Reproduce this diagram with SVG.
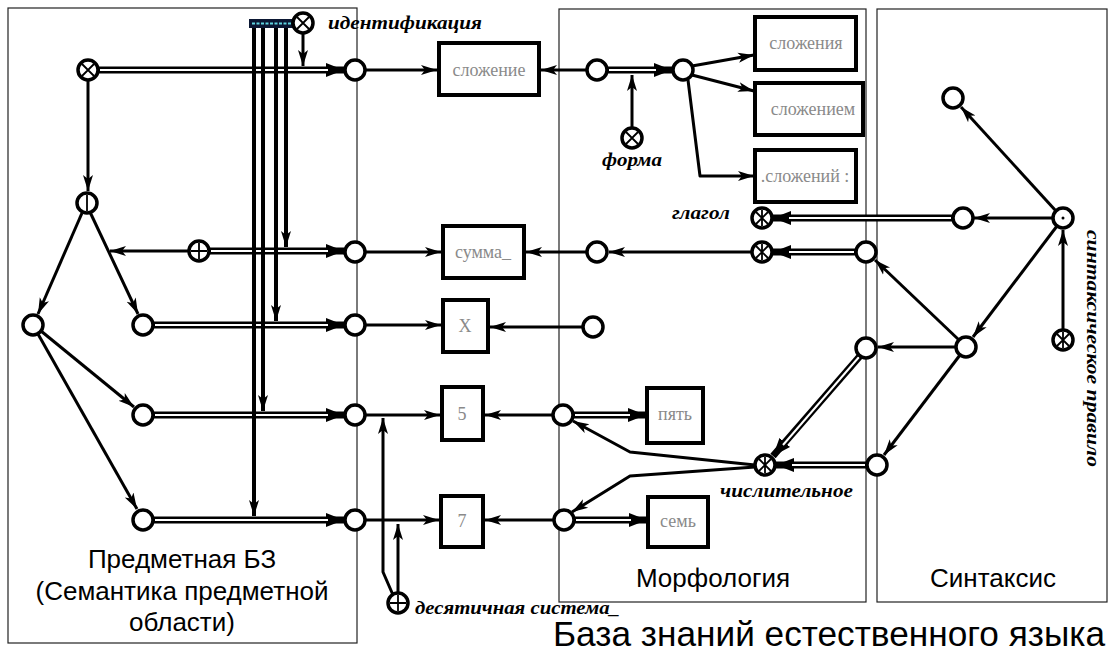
<svg xmlns="http://www.w3.org/2000/svg" width="1111" height="652" viewBox="0 0 1111 652">
<style>
.fr{fill:none;stroke:#222;stroke-width:1.2}
.ln{fill:none;stroke:#000;stroke-width:3;stroke-linejoin:round}
.vl{fill:none;stroke:#000;stroke-width:4}
.d1{fill:none;stroke:#000;stroke-width:7}
.d2{fill:none;stroke:#fff;stroke-width:2}
.c{fill:#fff;stroke:#000;stroke-width:3.5}
.x{fill:none;stroke:#000;stroke-width:1.8}
.bx{fill:#fff;stroke:#000;stroke-width:4}
.bt{font-family:"Liberation Serif","Times New Roman",serif;font-size:18px;fill:#8a8a8a;text-anchor:middle}
.lb{font-family:"Liberation Serif","Times New Roman",serif;font-size:19px;font-style:italic;font-weight:bold;fill:#000}
.fl{font-family:"Liberation Sans",Arial,sans-serif;font-size:26px;fill:#000;text-anchor:middle}
</style>
<defs>
<marker id="ah" markerUnits="userSpaceOnUse" markerWidth="18" markerHeight="12" refX="16" refY="6" orient="auto"><path d="M0,1 L16,6 L0,11 L4,6 z" fill="#000"/></marker>
<marker id="ad" markerUnits="userSpaceOnUse" markerWidth="20" markerHeight="14" refX="18" refY="7" orient="auto"><path d="M0,0 L18,7 L0,14 z" fill="#000"/></marker>
</defs>
<rect width="1111" height="652" fill="#fff"/>
<g id="frames">
<rect class="fr" x="8" y="8" width="349" height="635"/>
<rect class="fr" x="559" y="9" width="307" height="593"/>
<rect class="fr" x="877" y="9" width="230" height="593"/>
<text class="fl" x="182" y="568">Предметная БЗ</text>
<text class="fl" x="182" y="600">(Семантика предметной</text>
<text class="fl" x="182" y="631">области)</text>
<text class="fl" x="713" y="587">Морфология</text>
<text class="fl" x="993" y="587">Синтаксис</text>
<text font-family="Liberation Sans, Arial, sans-serif" font-size="35" x="553" y="646" textLength="552" lengthAdjust="spacingAndGlyphs">База знаний естественного языка</text>
</g>
<g id="connectors">
<path class="d1" d="M98,70 H344" marker-end="url(#ad)"/><path class="d2" d="M100,70 H328"/>
<path class="d1" d="M209,251 H344" marker-end="url(#ad)"/><path class="d2" d="M211,251 H328"/>
<path class="d1" d="M153,325 H344" marker-end="url(#ad)"/><path class="d2" d="M155,325 H328"/>
<path class="d1" d="M153,415 H344" marker-end="url(#ad)"/><path class="d2" d="M155,415 H328"/>
<path class="d1" d="M153,520 H344" marker-end="url(#ad)"/><path class="d2" d="M155,520 H328"/>
<path class="d1" d="M607,70 H672" marker-end="url(#ad)"/><path class="d2" d="M609,70 H656"/>
<path class="d1" d="M953,218 H773" marker-end="url(#ad)"/><path class="d2" d="M951,218 H789"/>
<path class="d1" d="M856,252 H773" marker-end="url(#ad)"/><path class="d2" d="M854,252 H789"/>
<path class="d1" d="M867,465 H776" marker-end="url(#ad)"/><path class="d2" d="M865,465 H792"/>
<path class="d1" d="M860,356 L773,456" marker-end="url(#ad)"/><path class="d2" d="M859,357 L783,445"/>
<path class="d1" d="M573,415 H646" marker-end="url(#ad)"/><path class="d2" d="M575,415 H630"/>
<path class="d1" d="M574,520 H647" marker-end="url(#ad)"/><path class="d2" d="M576,520 H631"/>
<path class="vl" d="M286,28 V247" marker-end="url(#ah)"/>
<path class="vl" d="M276,28 V321" marker-end="url(#ah)"/>
<path class="vl" d="M263,28 V411" marker-end="url(#ah)"/>
<path class="vl" d="M254,28 V516" marker-end="url(#ah)"/>
<path class="ln" d="M303,33 V66" marker-end="url(#ah)"/>
<path class="ln" d="M88,80 V191" marker-end="url(#ah)"/>
<path class="ln" d="M82,213 L38,314" marker-end="url(#ah)"/>
<path class="ln" d="M90,212 L138,314" marker-end="url(#ah)"/>
<path class="ln" d="M189,251 H110" marker-end="url(#ah)"/>
<path class="ln" d="M41,331 L134,407" marker-end="url(#ah)"/>
<path class="ln" d="M38,334 L137,509" marker-end="url(#ah)"/>
<path class="ln" d="M365,70 H437" marker-end="url(#ah)"/>
<path class="ln" d="M587,70 H541" marker-end="url(#ah)"/>
<path class="ln" d="M632,128 V75" marker-end="url(#ah)"/>
<path class="ln" d="M692,66 L754,55" marker-end="url(#ah)"/>
<path class="ln" d="M692,75 L754,91" marker-end="url(#ah)"/>
<path class="ln" d="M688,80 L700,176 H754" marker-end="url(#ah)"/>
<path class="ln" d="M1053,218 H974" marker-end="url(#ah)"/>
<path class="ln" d="M1056,211 L961,107" marker-end="url(#ah)"/>
<path class="ln" d="M1063,330 V230" marker-end="url(#ah)"/>
<path class="ln" d="M1057,226 L973,337" marker-end="url(#ah)"/>
<path class="ln" d="M956,347 H878" marker-end="url(#ah)"/>
<path class="ln" d="M959,340 L875,260" marker-end="url(#ah)"/>
<path class="ln" d="M960,355 L884,455" marker-end="url(#ah)"/>
<path class="ln" d="M752,252 H609" marker-end="url(#ah)"/>
<path class="ln" d="M587,252 H526" marker-end="url(#ah)"/>
<path class="ln" d="M365,252 H441" marker-end="url(#ah)"/>
<path class="ln" d="M365,325 H441" marker-end="url(#ah)"/>
<path class="ln" d="M583,327 H490" marker-end="url(#ah)"/>
<path class="ln" d="M755,465 L630,452 L573,421" marker-end="url(#ah)"/>
<path class="ln" d="M755,467 L630,476 L572,512" marker-end="url(#ah)"/>
<path class="ln" d="M553,415 H485" marker-end="url(#ah)"/>
<path class="ln" d="M365,415 H440" marker-end="url(#ah)"/>
<path class="ln" d="M365,520 H439" marker-end="url(#ah)"/>
<path class="ln" d="M554,520 H485" marker-end="url(#ah)"/>
<path class="ln" d="M398,593 V524" marker-end="url(#ah)"/>
<path class="ln" d="M393,595 L383,572 V418" marker-end="url(#ah)"/>
</g>
<g id="bar"><rect x="249" y="19" width="45" height="9" fill="#0b1733"/><path d="M252,23.5 H291" stroke="#5fd3e0" stroke-width="2" stroke-dasharray="3,1.5"/></g>
<g id="nA" transform="translate(88,70)"><circle class="c" r="10"/><path class="x" d="M-6,-6 L6,6 M-6,6 L6,-6"/></g>
<g id="nI" transform="translate(303,23)"><circle class="c" r="10"/><path class="x" d="M-6,-6 L6,6 M-6,6 L6,-6"/></g>
<g id="nB" transform="translate(87,203)"><circle class="c" r="10"/><path class="x" d="M0,-8 V8"/></g>
<g id="nC"><circle class="c" cx="33" cy="325" r="10"/></g>
<g id="nD"><circle class="c" cx="143" cy="325" r="10"/></g>
<g id="nE" transform="translate(199,251)"><circle class="c" r="10"/><path class="x" d="M0,-8 V8 M-8,0 H8"/></g>
<g id="nF"><circle class="c" cx="143" cy="415" r="10"/></g>
<g id="nG"><circle class="c" cx="143" cy="520" r="10"/></g>
<g id="nR1"><circle class="c" cx="355" cy="70" r="10"/></g>
<g id="nR2"><circle class="c" cx="355" cy="252" r="10"/></g>
<g id="nR3"><circle class="c" cx="355" cy="325" r="10"/></g>
<g id="nR4"><circle class="c" cx="355" cy="415" r="10"/></g>
<g id="nR5"><circle class="c" cx="355" cy="520" r="10"/></g>
<g id="bSlozhenie"><rect class="bx" x="439" y="43" width="100" height="52"/><text class="bt" x="489" y="76">сложение</text></g>
<g id="bSumma"><rect class="bx" x="443" y="226" width="81" height="52"/><text class="bt" x="483" y="258">сумма_</text></g>
<g id="bX"><rect class="bx" x="443" y="300" width="45" height="52"/><text class="bt" x="465" y="332">X</text></g>
<g id="b5"><rect class="bx" x="442" y="387" width="41" height="53"/><text class="bt" x="462" y="420">5</text></g>
<g id="b7"><rect class="bx" x="441" y="496" width="42" height="51"/><text class="bt" x="462" y="527">7</text></g>
<g id="nM1"><circle class="c" cx="597" cy="70" r="10"/></g>
<g id="nM2"><circle class="c" cx="683" cy="70" r="10"/></g>
<g id="nForma" transform="translate(632,138)"><circle class="c" r="10"/><path class="x" d="M-6,-6 L6,6 M-6,6 L6,-6"/></g>
<g id="bSlozheniya"><rect class="bx" x="755" y="17" width="101" height="53"/><text class="bt" x="806" y="49">сложения</text></g>
<g id="bSlozheniem"><rect class="bx" x="755" y="83" width="108" height="52"/><text class="bt" x="813" y="115">сложением</text></g>
<g id="bSlozheniy"><rect class="bx" x="755" y="150" width="101" height="52"/><text class="bt" x="805" y="182">.сложений :</text></g>
<g id="nGlagol" transform="translate(762,218)"><circle class="c" r="10"/><path class="x" d="M-6,-6 L6,6 M-6,6 L6,-6 M0,-8 V8"/></g>
<g id="nN1" transform="translate(762,252)"><circle class="c" r="10"/><path class="x" d="M-6,-6 L6,6 M-6,6 L6,-6 M0,-8 V8"/></g>
<g id="nM3"><circle class="c" cx="597" cy="252" r="10"/></g>
<g id="nM6"><circle class="c" cx="593" cy="327" r="10"/></g>
<g id="nM4"><circle class="c" cx="866" cy="252" r="10"/></g>
<g id="nM5"><circle class="c" cx="866" cy="348" r="10"/></g>
<g id="nN2" transform="translate(765,465)"><circle class="c" r="10"/><path class="x" d="M-6,-6 L6,6 M-6,6 L6,-6 M0,-8 V8"/></g>
<g id="nS4"><circle class="c" cx="877" cy="465" r="10"/></g>
<g id="nM7"><circle class="c" cx="563" cy="415" r="10"/></g>
<g id="nM8"><circle class="c" cx="564" cy="520" r="10"/></g>
<g id="bPyat"><rect class="bx" x="647" y="388" width="56" height="55"/><text class="bt" x="675" y="420">пять</text></g>
<g id="bSem"><rect class="bx" x="648" y="497" width="60" height="50"/><text class="bt" x="678" y="527">семь</text></g>
<g id="nS0"><circle class="c" cx="953" cy="98" r="10"/></g>
<g id="nS1" transform="translate(1063,218)"><circle class="c" r="10"/><circle r="1.5" fill="#000"/></g>
<g id="nS2"><circle class="c" cx="963" cy="218" r="10"/></g>
<g id="nS3"><circle class="c" cx="966" cy="347" r="10"/></g>
<g id="nSP" transform="translate(1063,340)"><circle class="c" r="10"/><path class="x" d="M-6,-6 L6,6 M-6,6 L6,-6 M0,-8 V8"/></g>
<g id="nDec" transform="translate(398,603)"><circle class="c" r="10"/><path class="x" d="M0,-8 V8 M-8,0 H8"/></g>
<g id="labels">
<text class="lb" x="328" y="29" textLength="154" lengthAdjust="spacingAndGlyphs">идентификация</text>
<text class="lb" x="602" y="166" textLength="60" lengthAdjust="spacingAndGlyphs">форма</text>
<text class="lb" x="672" y="219" textLength="58" lengthAdjust="spacingAndGlyphs">глагол</text>
<text class="lb" x="720" y="497" textLength="133" lengthAdjust="spacingAndGlyphs">числительное</text>
<text class="lb" x="415" y="614" textLength="205" lengthAdjust="spacingAndGlyphs">десятичная система_</text>
<text class="lb" transform="translate(1087,230) rotate(90)" textLength="237" lengthAdjust="spacingAndGlyphs">синтаксическое правило</text>
</g>
</svg>
